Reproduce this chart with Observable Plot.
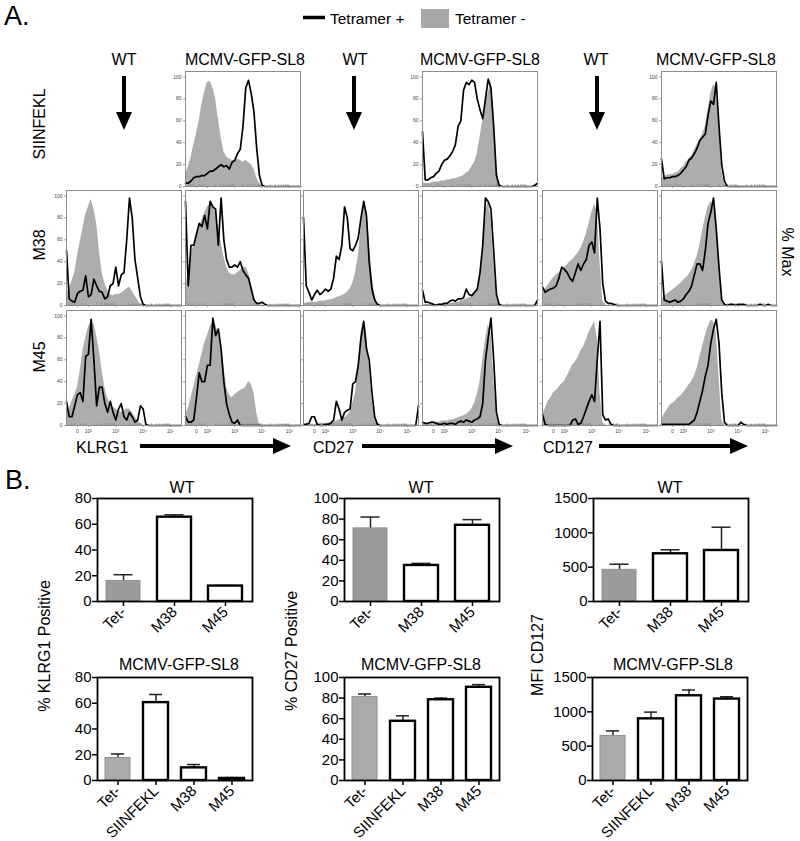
<!DOCTYPE html>
<html><head><meta charset="utf-8">
<script src="https://cdn.jsdelivr.net/npm/d3@7"></script>
<script src="https://cdn.jsdelivr.net/npm/@observablehq/plot@0.6"></script>
<style>
body{margin:0;background:#fff;font-family:"Liberation Sans",Arial,sans-serif;}
#fig{position:relative;width:800px;height:841px;overflow:hidden;background:#fff;}
#fig > div.p{position:absolute;}
#fig svg{overflow:visible;}
.barc [aria-label^="y-axis"] line,.barc [aria-label^="y-axis"] path,.barc [aria-label^="x-axis"] line,.barc [aria-label^="x-axis"] path{stroke-width:1.5px;}
.hist [aria-label^="y-axis"] line,.hist [aria-label^="y-axis"] path,.hist [aria-label^="x-axis"] line,.hist [aria-label^="x-axis"] path{stroke:#777;stroke-width:0.7px;}
</style></head><body><div id="fig"></div>
<script>
// ---------- Part A: histogram channel grid (biexponential display, decades) ----------
const channels = [1.2,1.3,1.4,1.5,1.6,1.7,1.8,1.9,2.0,2.1, 2.2,2.3,2.4,2.5,2.6,2.7,2.8,2.9,3.0,3.1, 3.2,3.3,3.4,3.5,3.6,3.7,3.8,3.9,4.0,4.1, 4.2,4.3,4.4,4.5,4.6,4.7,4.8,4.9,5.0,5.1, 5.2,5.3,5.4];
const biexTickPos = [1.6, 2, 3, 4, 5];
const biexTickLabels = ["0", "10²", "10³", "10⁴", "10⁵"];
const pctMaxTicks = [0, 20, 40, 60, 80, 100];

// row SIINFEKL (MCMV-GFP-SL8 only)
const siinfekl_klrg1_pos = [3,3,5,8,9,9,10,10,12,14, 14,16,18,20,18,19,16,22,24,30, 34,55,90,97,85,68,35,10,1,0, 0,0,0,0,0,0,0,0,0,0, 0,0,0];
const siinfekl_klrg1_neg = [10,18,26,38,48,60,75,86,95,96, 90,80,62,45,32,27,25,24,23,25, 24,22,24,22,20,16,8,3,0,0, 0,0,0,0,0,0,0,0,0,0, 0,0,0];
const siinfekl_cd27_pos = [50,6,6,8,9,12,14,20,24,25, 28,32,38,55,60,88,95,93,97,95, 80,70,62,80,98,90,55,10,1,0, 0,0,0,0,0,0,0,0,0,0, 0,1,3];
const siinfekl_cd27_neg = [3,3,3,3,4,4,4,5,5,6, 6,7,7,8,9,10,12,14,18,22, 30,45,60,78,85,97,70,20,2,0, 0,0,0,0,0,0,0,0,0,0, 0,0,0];
const siinfekl_cd127_pos = [25,7,8,8,9,9,10,12,15,18, 24,26,30,35,42,45,48,65,78,75, 95,55,20,5,0,0,0,0,0,0, 0,0,0,0,0,0,0,0,0,0, 0,0,0];
const siinfekl_cd127_neg = [8,9,10,11,11,12,13,16,18,22, 25,28,33,38,43,48,55,70,85,93, 90,55,15,2,0,0,0,0,0,0, 0,0,0,0,0,0,0,0,0,0, 0,0,0];

// row M38
const m38_klrg1_wt_pos = [50,6,4,3,11,13,14,27,8,10, 24,18,13,12,6,8,18,20,35,18, 28,30,60,98,80,42,25,8,1,0, 0,0,0,0,0,0,0,0,0,0, 0,0,0];
const m38_klrg1_wt_neg = [10,15,22,30,45,58,70,83,90,97, 88,75,50,30,20,14,10,9,10,10, 11,13,15,17,13,9,5,1,0,0, 0,0,0,0,0,0,0,0,0,0, 0,0,0];
const m38_klrg1_mcmv_pos = [95,18,55,55,65,75,72,82,70,95, 90,88,55,98,60,42,35,35,37,35, 40,32,28,25,15,5,2,2,3,1, 0,0,0,0,0,0,0,0,0,0, 0,0,0];
const m38_klrg1_mcmv_neg = [15,30,45,55,62,70,78,85,90,93, 92,85,72,58,45,35,30,28,28,30, 32,35,35,30,20,8,2,0,0,0, 0,0,0,0,0,0,0,0,0,0, 0,0,0];
const m38_cd27_wt_pos = [80,18,12,5,10,14,10,12,15,13, 15,25,45,42,55,90,80,52,50,55, 62,80,95,82,40,15,5,1,0,0, 0,0,0,0,0,0,0,0,0,0, 0,0,0];
const m38_cd27_wt_neg = [2,2,3,3,3,3,4,4,4,5, 5,6,7,8,9,10,12,15,20,30, 45,70,92,88,60,28,10,2,0,0, 0,0,0,0,0,0,0,0,0,0, 0,0,0];
const m38_cd27_mcmv_pos = [14,3,3,2,1,0,1,1,2,2, 4,5,4,6,6,7,15,10,9,12, 15,30,55,98,95,88,50,10,1,0, 0,0,0,0,0,0,0,0,0,0, 0,0,5];
const m38_cd27_mcmv_neg = [1,1,1,1,1,1,1,1,1,1, 2,2,3,3,4,5,6,7,8,10, 15,25,45,85,95,80,40,8,0,0, 0,0,0,0,0,0,0,0,0,0, 0,0,0];
const m38_cd127_wt_pos = [17,12,14,15,16,18,25,35,33,30, 25,22,30,38,32,38,42,55,58,48, 98,70,20,4,2,2,1,0,0,0, 0,0,0,0,0,0,0,0,0,0, 0,0,0];
const m38_cd127_wt_neg = [10,15,18,22,25,28,30,32,35,37, 40,42,45,48,52,58,65,75,85,93, 85,40,5,0,0,0,0,0,0,0, 0,0,0,0,0,0,0,0,0,0, 0,0,0];
const m38_cd127_mcmv_pos = [40,5,4,3,4,5,3,4,6,10, 13,18,28,38,38,32,50,75,85,98, 70,35,5,1,0,1,1,0,1,1, 1,0,0,0,0,0,1,0,0,1, 0,0,0];
const m38_cd127_mcmv_neg = [5,8,10,12,14,16,18,20,23,25, 28,32,38,45,55,68,80,90,95,92, 75,38,5,0,0,0,0,0,0,0, 0,0,0,0,0,0,0,0,0,0, 0,0,0];

// row M45
const m45_klrg1_wt_pos = [22,8,8,18,28,30,22,63,65,97, 60,18,35,35,20,12,22,12,5,15, 20,8,5,12,8,3,5,18,15,1, 0,0,0,0,0,0,0,0,0,0, 0,0,0];
const m45_klrg1_wt_neg = [10,15,22,28,35,50,68,80,90,95, 93,82,68,50,35,25,20,17,15,13, 12,13,15,15,12,8,4,2,0,0, 0,0,0,0,0,0,0,0,0,0, 0,0,0];
const m45_klrg1_mcmv_pos = [8,3,3,5,25,48,40,40,55,55, 98,82,88,70,40,20,10,3,2,5, 0,0,0,0,0,0,0,0,0,0, 0,0,0,0,0,0,0,0,0,0, 0,0,0];
const m45_klrg1_mcmv_neg = [10,15,25,35,45,55,65,75,82,90, 95,92,85,70,55,35,28,25,28,30, 32,33,35,40,38,30,12,1,0,0, 0,0,0,0,0,0,0,0,0,0, 0,0,0];
const m45_cd27_wt_pos = [1,1,2,8,8,1,0,0,1,1, 2,5,22,15,5,12,14,15,38,40, 55,80,95,70,60,30,8,1,0,0, 0,0,0,0,0,0,0,0,0,0, 0,0,18];
const m45_cd27_wt_neg = [1,1,1,1,1,1,2,2,2,2, 3,3,4,5,6,7,9,12,20,30, 55,85,95,85,55,25,8,1,0,0, 0,0,0,0,0,0,0,0,0,0, 0,0,0];
const m45_cd27_mcmv_pos = [3,2,2,3,3,2,1,1,2,1, 2,2,1,3,4,3,5,4,3,5, 6,8,20,60,80,98,60,12,1,0, 0,0,0,0,0,0,0,0,0,0, 0,0,0];
const m45_cd27_mcmv_neg = [2,2,2,2,3,3,3,4,4,4, 5,5,6,7,8,9,10,12,15,20, 28,40,60,78,92,85,45,10,1,0, 0,0,0,0,0,0,0,0,0,0, 0,0,0];
const m45_cd127_wt_pos = [10,1,0,0,0,0,0,0,0,0, 0,5,6,1,2,8,15,22,28,22, 60,95,10,5,6,1,0,0,0,0, 0,0,0,0,0,0,0,0,0,0, 0,0,0];
const m45_cd127_wt_neg = [10,15,22,25,30,32,35,38,40,45, 50,55,58,62,68,72,78,85,90,95, 80,30,3,0,0,0,0,0,0,0, 0,0,0,0,0,0,0,0,0,0, 0,0,0];
const m45_cd127_mcmv_pos = [1,1,1,1,1,1,1,1,1,1, 1,3,5,12,22,32,45,55,75,88, 97,75,30,3,0,0,0,0,0,3, 1,0,0,0,0,0,0,0,0,0, 0,0,0];
const m45_cd127_mcmv_neg = [5,10,14,18,20,22,25,27,30,33, 37,40,45,52,62,72,82,90,96,95, 85,45,5,0,0,0,0,0,0,0, 0,0,0,0,0,0,0,0,0,0, 0,0,0];

const columnHeaders = ["WT", "MCMV-GFP-SL8", "WT", "MCMV-GFP-SL8", "WT", "MCMV-GFP-SL8"];
const rowLabels = ["SIINFEKL", "M38", "M45"];
const markerLabels = ["KLRG1", "CD27", "CD127"];
const legendLabels = ["Tetramer +", "Tetramer -"];

// ---------- Part B: bar charts ----------
const wtGroups = ["Tet-", "M38", "M45"];
const mcmvGroups = ["Tet-", "SIINFEKL", "M38", "M45"];
const klrg1WT = [16, 65.5, 12];        const klrg1WTErr = [4.8, 1.8, 0.4];
const cd27WT = [71, 35, 74];           const cd27WTErr = [11, 2, 5.5];
const cd127WT = [461, 695, 743];       const cd127WTErr = [82, 58, 339];
const klrg1MCMV = [17.5, 60.5, 9.8, 1.6];   const klrg1MCMVErr = [3.1, 6.3, 2.6, 0.6];
const cd27MCMV = [81, 57.5, 78.4, 90.5];    const cd27MCMVErr = [3, 5.3, 1.6, 2.6];
const cd127MCMV = [649, 898, 1234, 1186];   const cd127MCMVErr = [73, 98, 84, 34];
const pctTicks80 = [0, 20, 40, 60, 80];
const pctTicks100 = [0, 20, 40, 60, 80, 100];
const mfiTicks = [0, 500, 1000, 1500];
const barYTitles = ["% KLRG1 Positive", "% CD27 Positive", "MFI CD127"];

// ---------- layout ----------
const FONT = '"Liberation Sans", Arial, sans-serif';
const fig = document.getElementById("fig");
function place(node, left, top) {
  const d = document.createElement("div");
  d.className = "p"; d.style.left = left + "px"; d.style.top = top + "px";
  d.appendChild(node); fig.appendChild(d);
}

const colLeft = [66, 184.5, 303, 422, 541.5, 661];
const rowTop = [71, 190, 310];
const PW = 115, PH = 115;

const minorX = [];
[2,3,4].forEach(e => { for (let k = 2; k <= 9; k++) minorX.push(e + Math.log10(k)); });
[1.7,1.8,1.9,1.5,1.4,1.3].forEach(v => minorX.push(v));
const minorY = [10,30,50,70,90];

const histPanels = [
  {r:0,c:1,pos:siinfekl_klrg1_pos,neg:siinfekl_klrg1_neg},
  {r:0,c:3,pos:siinfekl_cd27_pos,neg:siinfekl_cd27_neg},
  {r:0,c:5,pos:siinfekl_cd127_pos,neg:siinfekl_cd127_neg},
  {r:1,c:0,pos:m38_klrg1_wt_pos,neg:m38_klrg1_wt_neg},
  {r:1,c:1,pos:m38_klrg1_mcmv_pos,neg:m38_klrg1_mcmv_neg},
  {r:1,c:2,pos:m38_cd27_wt_pos,neg:m38_cd27_wt_neg},
  {r:1,c:3,pos:m38_cd27_mcmv_pos,neg:m38_cd27_mcmv_neg},
  {r:1,c:4,pos:m38_cd127_wt_pos,neg:m38_cd127_wt_neg},
  {r:1,c:5,pos:m38_cd127_mcmv_pos,neg:m38_cd127_mcmv_neg},
  {r:2,c:0,pos:m45_klrg1_wt_pos,neg:m45_klrg1_wt_neg},
  {r:2,c:1,pos:m45_klrg1_mcmv_pos,neg:m45_klrg1_mcmv_neg},
  {r:2,c:2,pos:m45_cd27_wt_pos,neg:m45_cd27_wt_neg},
  {r:2,c:3,pos:m45_cd27_mcmv_pos,neg:m45_cd27_mcmv_neg},
  {r:2,c:4,pos:m45_cd127_wt_pos,neg:m45_cd127_wt_neg},
  {r:2,c:5,pos:m45_cd127_mcmv_pos,neg:m45_cd127_mcmv_neg}
];

histPanels.forEach(p => {
  const data = channels.map((d, i) => ({d, pos: p.pos[i], neg: p.neg[i]}));
  const showY = p.r === 0 || p.c === 0;
  const showX = p.r === 2;
  const svg = Plot.plot({
    width: PW, height: PH, marginLeft: 0, marginRight: 0, marginTop: 0, marginBottom: 0,
    className: "hist",
    style: {background: "transparent", overflow: "visible", fontSize: "5px", fontFamily: FONT, color: "#444"},
    x: {domain: [1.2, 5.4], ticks: biexTickPos, tickFormat: v => showX ? biexTickLabels[biexTickPos.indexOf(v)] : "", tickSize: 2, tickPadding: 2, label: null},
    y: {domain: [0, 105], ticks: pctMaxTicks, tickFormat: v => showY ? String(v) : "", tickSize: 2, tickPadding: 2, label: null},
    marks: [
      Plot.areaY(data, {x: "d", y: "neg", fill: "#adadad"}),
      Plot.ruleX(minorX, {x: v => v, y1: 0, y2: 1.6, stroke: "#777", strokeWidth: 0.6}),
      Plot.ruleY(minorY, {y: v => v, x1: 1.2, x2: 1.24, stroke: "#777", strokeWidth: 0.6}),
      Plot.lineY(data, {x: "d", y: "pos", stroke: "#000", strokeWidth: 1.7, strokeLinejoin: "round"}),
      Plot.frame({stroke: "#8c8c8c", strokeWidth: 1})
    ]
  });
  place(svg, colLeft[p.c], rowTop[p.r]);
});

// bar charts
function barChart(groups, vals, errs, yMax, yTicks, tetFill, capInset) {
  const data = groups.map((g, i) => ({g, v: vals[i], e: vals[i] + errs[i], tet: i === 0}));
  return Plot.plot({
    width: 155, height: 103, marginLeft: 0, marginRight: 0, marginTop: 0, marginBottom: 0,
    className: "barc",
    style: {background: "transparent", overflow: "visible", fontSize: "15px", fontFamily: FONT, color: "#000"},
    x: {domain: groups, paddingInner: 0.33, paddingOuter: 0.18, tickRotate: -45, tickSize: 5, tickPadding: 3, label: null},
    y: {domain: [0, yMax], ticks: yTicks, tickFormat: v => String(v), tickSize: 5, tickPadding: 1, label: null},
    marks: [
      Plot.ruleX(data, {x: "g", y1: "v", y2: "e", stroke: "#222", strokeWidth: 1.5}),
      Plot.tickY(data, {x: "g", y: "e", stroke: "#222", strokeWidth: 1.5, inset: capInset}),
      Plot.barY(data.filter(d => d.tet), {x: "g", y: "v", fill: tetFill, stroke: "#8f8f8f", strokeWidth: 1}),
      Plot.barY(data.filter(d => !d.tet), {x: "g", y: "v", fill: "white", stroke: "#000", strokeWidth: 2.4}),
      Plot.frame({stroke: "#000", strokeWidth: 1.8})
    ]
  });
}
place(barChart(wtGroups, klrg1WT, klrg1WTErr, 80, pctTicks80, "#9b9b9b", 7.5), 97, 498);
place(barChart(wtGroups, cd27WT, cd27WTErr, 100, pctTicks100, "#9b9b9b", 7.5), 343.5, 498);
place(barChart(wtGroups, cd127WT, cd127WTErr, 1500, mfiTicks, "#9b9b9b", 7.5), 593, 498);
place(barChart(mcmvGroups, klrg1MCMV, klrg1MCMVErr, 80, pctTicks80, "#aaaaaa", 6), 97, 677);
place(barChart(mcmvGroups, cd27MCMV, cd27MCMVErr, 100, pctTicks100, "#aaaaaa", 6), 343.5, 677);
place(barChart(mcmvGroups, cd127MCMV, cd127MCMVErr, 1500, mfiTicks, "#aaaaaa", 6), 592, 677);

// ---------- annotation overlay ----------
const ov = d3.select(fig).append("svg")
  .attr("width", 800).attr("height", 841)
  .style("position", "absolute").style("left", "0px").style("top", "0px")
  .style("pointer-events", "none").style("font-family", FONT);
function txt(x, y, s, size, anchor, rot) {
  const t = ov.append("text").attr("font-size", size).attr("text-anchor", anchor || "start").attr("fill", "#000").text(s);
  if (rot) t.attr("transform", `translate(${x},${y}) rotate(${rot})`); else t.attr("x", x).attr("y", y);
  return t;
}
txt(4, 25, "A.", 27);
txt(5, 489, "B.", 27);
// legend
ov.append("line").attr("x1", 303).attr("x2", 325).attr("y1", 17.5).attr("y2", 17.5).attr("stroke", "#000").attr("stroke-width", 3.5);
txt(330, 24, legendLabels[0], 15.5);
ov.append("rect").attr("x", 421).attr("y", 9).attr("width", 28).attr("height", 19).attr("fill", "#a8a8a8");
txt(455, 24, legendLabels[1], 15.5);
// column headers
const headerX = [124, 245, 355, 480, 596, 716];
columnHeaders.forEach((s, i) => txt(headerX[i], 65, s, 16, "middle"));
// down arrows for WT columns (no SIINFEKL response)
[124, 354, 597].forEach(x => {
  ov.append("line").attr("x1", x).attr("x2", x).attr("y1", 76).attr("y2", 114).attr("stroke", "#000").attr("stroke-width", 4);
  ov.append("path").attr("d", `M${x-8},112L${x+8},112L${x},130Z`).attr("fill", "#000");
});
// row labels
const rowY = [124, 245, 357];
rowLabels.forEach((s, i) => txt(45, rowY[i], s, 16, "middle", -90));
txt(782, 252, "% Max", 16, "middle", 90);
// marker labels + right arrows
const markerX = [76, 313, 543];
const arrowSpan = [[140, 291], [362, 513], [599, 748]];
markerLabels.forEach((s, i) => {
  txt(markerX[i], 453, s, 16);
  const [a, b] = arrowSpan[i];
  ov.append("line").attr("x1", a).attr("x2", b - 16).attr("y1", 446).attr("y2", 446).attr("stroke", "#000").attr("stroke-width", 4);
  ov.append("path").attr("d", `M${b-18},438L${b-18},454L${b},446Z`).attr("fill", "#000");
});
// bar chart titles
txt(182, 493, "WT", 16, "middle");
txt(421, 493, "WT", 16, "middle");
txt(670, 493, "WT", 16, "middle");
txt(179, 670, "MCMV-GFP-SL8", 16, "middle");
txt(421, 670, "MCMV-GFP-SL8", 16, "middle");
txt(673, 670, "MCMV-GFP-SL8", 16, "middle");
txt(50, 646, barYTitles[0], 16, "middle", -90);
txt(297, 651, barYTitles[1], 16, "middle", -90);
txt(543, 655, barYTitles[2], 16, "middle", -90);
</script>
</body></html>
